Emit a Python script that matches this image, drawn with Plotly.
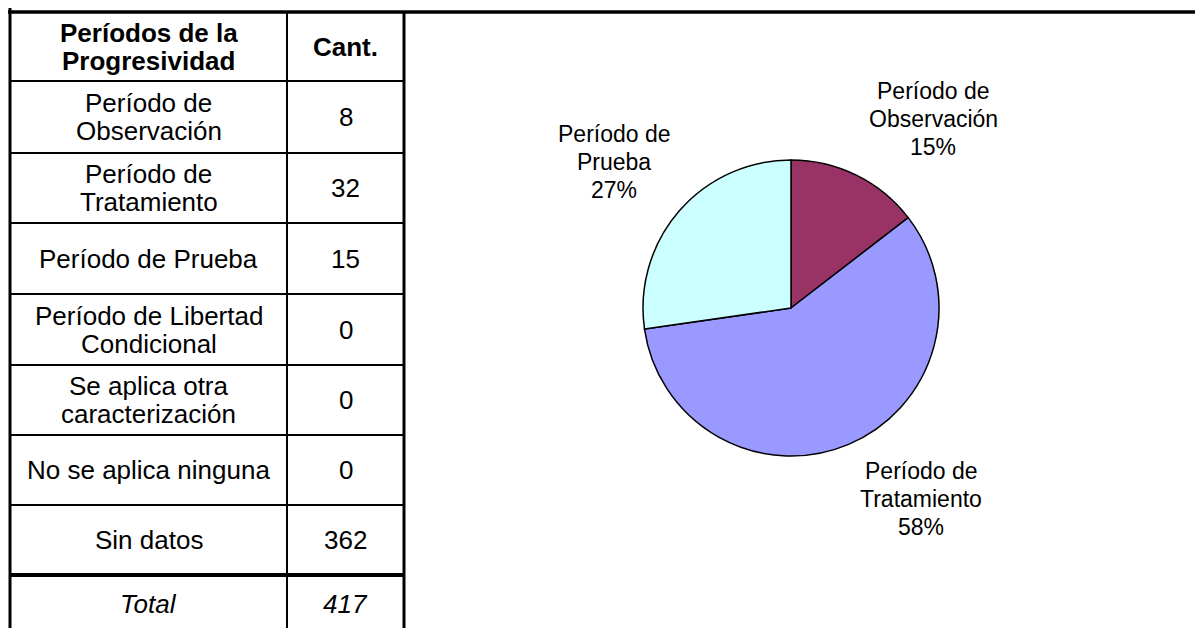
import plotly.graph_objects as go

# datos de la tabla
encabezado_cat = "Períodos de la\nProgresividad"
encabezado_cant = "Cant."
categorias = [
    "Período de\nObservación",
    "Período de\nTratamiento",
    "Período de Prueba",
    "Período de Libertad\nCondicional",
    "Se aplica otra\ncaracterización",
    "No se aplica ninguna",
    "Sin datos",
]
cantidades = [8, 32, 15, 0, 0, 0, 362]
total_label = "Total"
total = sum(cantidades)

# datos de la torta
torta_labels = ["Período de\nObservación", "Período de\nTratamiento", "Período de\nPrueba"]
torta_valores = [8, 32, 15]
torta_colores = ["#993366", "#9999FF", "#CCFFFF"]

W, H = 1195, 628
FONT = "Liberation Sans, Arial, sans-serif"

# geometria de la tabla (pixeles)
x_left, x_mid, x_right = 10, 287, 404
row_edges = [12, 81, 153, 223, 294, 365, 435, 505, 575, 633]
line_gap = 28

fig = go.Figure()

fig.add_trace(go.Pie(
    labels=[l.replace("\n", " ") for l in torta_labels],
    values=torta_valores,
    marker=dict(colors=torta_colores, line=dict(color="black", width=1.5)),
    sort=False,
    direction="clockwise",
    rotation=0,
    textinfo="none",
    hoverinfo="label+percent",
    showlegend=False,
    domain=dict(x=[643 / W, 939 / W], y=[(H - 456) / H, (H - 160) / H]),
))

shapes = []
def hline(y, x0, x1, w):
    shapes.append(dict(type="line", xref="x", yref="y", x0=x0, x1=x1, y0=y, y1=y,
                       line=dict(color="black", width=w)))
def vline(x, y0, y1, w):
    shapes.append(dict(type="line", xref="x", yref="y", x0=x, x1=x, y0=y0, y1=y1,
                       line=dict(color="black", width=w)))

hline(row_edges[0], x_left - 2, W, 3.5)
for y in row_edges[1:-2]:
    hline(y, x_left, x_right, 2)
hline(row_edges[-2], x_left, x_right, 4)
vline(x_left, 8, H, 3)
vline(x_mid, row_edges[0], H, 2)
vline(x_right, row_edges[0], H, 3)

annotations = []
def cell_text(text, xc, y0, y1, size=26, bold=False, italic=False):
    lines = text.split("\n")
    yc = (y0 + y1) / 2
    for i, ln in enumerate(lines):
        yy = yc + (i - (len(lines) - 1) / 2) * line_gap
        t = ln
        if bold:
            t = "<b>" + t + "</b>"
        if italic:
            t = "<i>" + t + "</i>"
        annotations.append(dict(x=xc, y=yy, xref="x", yref="y", text=t, showarrow=False,
                                xanchor="center", yanchor="middle",
                                font=dict(family=FONT, size=size, color="black")))

c1 = (x_left + x_mid) / 2
c2 = (x_mid + x_right) / 2
cell_text(encabezado_cat, c1, row_edges[0], row_edges[1], bold=True)
cell_text(encabezado_cant, c2, row_edges[0], row_edges[1], bold=True)
for i, (cat, n) in enumerate(zip(categorias, cantidades)):
    cell_text(cat, c1, row_edges[i + 1], row_edges[i + 2])
    cell_text(str(n), c2, row_edges[i + 1], row_edges[i + 2])
cell_text(total_label, c1, row_edges[-2], row_edges[-1], italic=True)
cell_text(str(total), c2, row_edges[-2], row_edges[-1], italic=True)

# etiquetas de la torta
suma = sum(torta_valores)
label_pos = [(933, 119), (921, 499), (614, 162)]
for lab, v, (lx, ly) in zip(torta_labels, torta_valores, label_pos):
    txt = lab + "\n" + f"{round(v / suma * 100)}%"
    lines = txt.split("\n")
    for i, ln in enumerate(lines):
        annotations.append(dict(x=lx, y=ly + (i - 1) * line_gap, xref="x", yref="y", text=ln,
                                showarrow=False, xanchor="center", yanchor="middle",
                                font=dict(family=FONT, size=23, color="black")))

fig.update_layout(
    width=W, height=H,
    margin=dict(l=0, r=0, t=0, b=0),
    paper_bgcolor="white", plot_bgcolor="white",
    xaxis=dict(range=[0, W], visible=False, fixedrange=True),
    yaxis=dict(range=[H, 0], visible=False, fixedrange=True),
    shapes=shapes,
    annotations=annotations,
)

fig.write_html("out.html", config={"displayModeBar": False},
               post_script="document.body.style.margin='0';")
